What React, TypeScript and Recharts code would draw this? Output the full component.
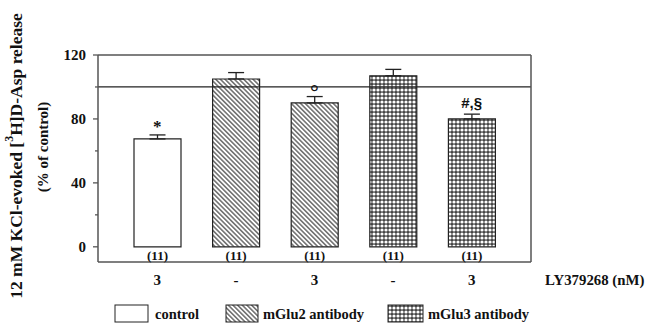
import * as React from 'react';
import {
  ComposedChart,
  Bar,
  Line,
  Cell,
  XAxis,
  YAxis,
  ReferenceLine,
  ErrorBar,
  LabelList,
  Label,
  Legend,
} from 'recharts';

// values
const groups = ['control', 'mGlu2', 'mGlu2', 'mGlu3', 'mGlu3'];
const lyDose = ['3', '-', '3', '-', '3'];
const release = [67.5, 105, 90, 107, 80];
const sem = [2.5, 4, 4, 4, 3];
const nLabels = ['(11)', '(11)', '(11)', '(11)', '(11)'];
const marks = ['*', '', '°', '', '#,§'];
const yTicks = [0, 20, 40, 60, 80, 100, 120];

const legendItems = [
  { key: 'control', label: 'control' },
  { key: 'mGlu2', label: 'mGlu2 antibody' },
  { key: 'mGlu3', label: 'mGlu3 antibody' },
];

const FONT = '"Liberation Serif", "Times New Roman", serif';
const SANS = '"Liberation Sans", Arial, sans-serif';
const AXIS = '#555';

const fills: Record<string, string> = {
  control: '#ffffff',
  mGlu2: 'url(#hatch)',
  mGlu3: 'url(#cross)',
};

const data = lyDose.map((dose, i) => ({
  key: i,
  dose,
  value: release[i],
  err: [0, sem[i]],
  top: release[i] + sem[i],
  n: nLabels[i],
  mark: marks[i],
  group: groups[i],
}));

function Patterns() {
  return (
    <defs>
      <pattern id="hatch" width="3.3" height="3.3" patternUnits="userSpaceOnUse" patternTransform="rotate(-45)">
        <rect width="3.3" height="3.3" fill="#fff" />
        <line x1="0.8" y1="0" x2="0.8" y2="3.3" stroke="#333" strokeWidth="1.1" />
      </pattern>
      <pattern id="cross" width="4" height="4" patternUnits="userSpaceOnUse">
        <rect width="4" height="4" fill="#444" />
        <circle cx="2" cy="2" r="1.6" fill="#fff" />
      </pattern>
    </defs>
  );
}

const YTick = (props: any) => {
  const { x, y, payload } = props;
  const major = payload.value % 40 === 0;
  return (
    <g>
      <line x1={x - (major ? 5 : 3)} x2={x} y1={y} y2={y} stroke={AXIS} strokeWidth={1.3} />
      {major && (
        <text x={x - 12} y={y} textAnchor="end" dominantBaseline="central" fontFamily={FONT} fontWeight="bold" fontSize={15} fill="#111">
          {payload.value}
        </text>
      )}
    </g>
  );
};

const YTitle = () => (
  <g fontFamily={FONT} fontWeight="bold" fill="#111">
    <text x={16} y={156} transform="rotate(-90 16 156)" textAnchor="middle" dominantBaseline="central" fontSize={17.5}>
      12 mM KCl-evoked [<tspan baselineShift="super" fontSize={12}>3</tspan>H]D-Asp release
    </text>
    <text x={43} y={147} transform="rotate(-90 43 147)" textAnchor="middle" dominantBaseline="central" fontSize={15}>
      (% of control)
    </text>
  </g>
);

const XTitle = (props: any) => {
  const { viewBox } = props;
  return (
    <text x={viewBox.x + viewBox.width + 14} y={280} dominantBaseline="central" fontFamily={FONT} fontWeight="bold" fontSize={14.8} fill="#111">
      LY379268 (nM)
    </text>
  );
};

const NLabel = (props: any) => {
  const { x, y, width, height, value } = props;
  return (
    <text x={x + width / 2} y={y + height + 9} textAnchor="middle" dominantBaseline="central" fontFamily={FONT} fontWeight="bold" fontSize={13} fill="#111">
      {value}
    </text>
  );
};

const MarkLabel = (props: any) => {
  const { x, y, value } = props;
  if (!value) return null;
  const sans = value.includes('#');
  const deg = value === '°';
  return (
    <text
      x={x}
      y={y - (sans ? 6 : deg ? -2 : 3)}
      textAnchor="middle"
      fontFamily={sans ? SANS : FONT}
      fontWeight="bold"
      fontSize={sans ? 15 : deg ? 22 : 17}
      fill="#111"
    >
      {value}
    </text>
  );
};

const LegendBox = () => (
  <svg width={647} height={22} style={{ display: 'block' }}>
    {legendItems.map((it, i) => {
      const bx = [115, 226, 388][i];
      const bw = [33, 32, 35][i];
      const tx = [155, 263, 428][i];
      return (
        <g key={it.key}>
          <rect x={bx} y={3} width={bw} height={17} fill={fills[it.key]} stroke="#222" strokeWidth={1} />
          <text x={tx} y={12} dominantBaseline="central" fontFamily={FONT} fontWeight="bold" fontSize={14.5} fill="#111">
            {it.label}
          </text>
        </g>
      );
    })}
  </svg>
);

export default function App() {
  return (
    <div style={{ position: 'absolute', left: 0, top: 0, width: 647, height: 327, background: '#fff' }}>
      <ComposedChart width={647} height={327} data={data} margin={{ top: 54, right: 115, bottom: 13, left: 0 }}>
        <Patterns />
        <XAxis
          dataKey="key"
          type="category"
          padding={{ left: 20, right: 20 }}
          height={30}
          tickSize={0}
          tickMargin={12}
          tickLine={false}
          tickFormatter={(i: number) => lyDose[i]}
          tick={{ fontFamily: FONT, fontWeight: 'bold', fontSize: 15, fill: '#111' }}
          axisLine={{ stroke: AXIS, strokeWidth: 1.5 }}
        >
          <Label content={<XTitle />} />
        </XAxis>
        <XAxis
          xAxisId="top"
          dataKey="key"
          type="category"
          orientation="top"
          padding={{ left: 20, right: 20 }}
          height={1}
          tick={false}
          tickLine={false}
          axisLine={{ stroke: AXIS, strokeWidth: 1.5 }}
        />
        <YAxis
          domain={[-9.5, 120]}
          ticks={yTicks}
          interval={0}
          width={98}
          tickSize={0}
          tickMargin={0}
          tickLine={false}
          tick={<YTick />}
          axisLine={{ stroke: AXIS, strokeWidth: 1.5 }}
          allowDataOverflow
        >
          <Label content={<YTitle />} />
        </YAxis>
        <YAxis
          yAxisId="right"
          orientation="right"
          width={1}
          domain={[-9.5, 120]}
          allowDataOverflow
          tick={false}
          tickLine={false}
          axisLine={{ stroke: AXIS, strokeWidth: 1.5 }}
        />
        <ReferenceLine y={100} stroke="#222" strokeWidth={1.2} />
        <Bar dataKey="value" barSize={47} stroke="#222" strokeWidth={1.2} isAnimationActive={false}>
          {data.map((d) => (
            <Cell key={d.key} fill={fills[d.group]} />
          ))}
          <ErrorBar dataKey="err" direction="y" width={8} stroke="#222" strokeWidth={1.3} />
          <LabelList dataKey="n" content={<NLabel />} />
        </Bar>
        <Line
          xAxisId="top"
          yAxisId="right"
          dataKey="top"
          stroke="none"
          dot={false}
          activeDot={false}
          legendType="none"
          isAnimationActive={false}
        >
          <LabelList dataKey="mark" content={<MarkLabel />} />
        </Line>
        <Legend content={<LegendBox />} verticalAlign="bottom" height={22} wrapperStyle={{ position: 'absolute', left: 0, top: 302, width: 647, height: 22 }} />
      </ComposedChart>
    </div>
  );
}
